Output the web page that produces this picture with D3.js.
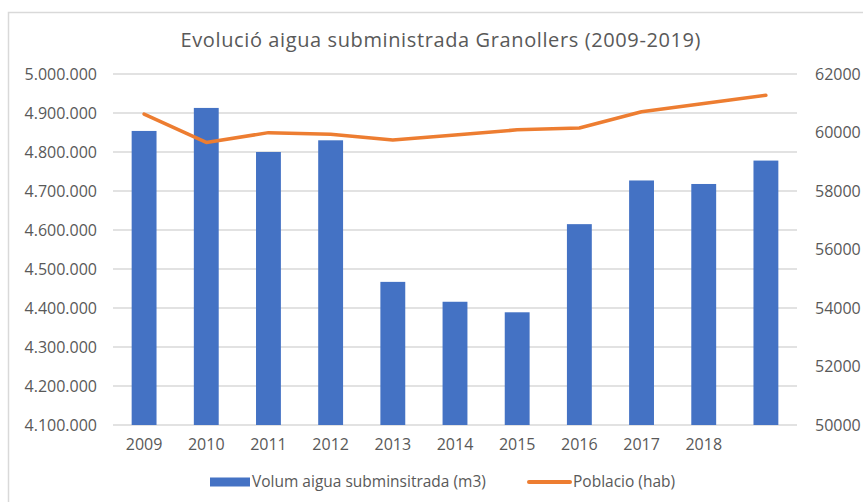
<!DOCTYPE html>
<html>
<head>
<meta charset="utf-8">
<script src="https://cdn.jsdelivr.net/npm/d3@7"></script>
<style>
  body { margin: 0; background: #fff; }
  text { font-family: "Open Sans", sans-serif; fill: #595959; }
</style>
</head>
<body>
<svg id="chart" width="863" height="502"></svg>
<script>
// data
const years = ["2009","2010","2011","2012","2013","2014","2015","2016","2017","2018","2019"];
const yearLabels = ["2009","2010","2011","2012","2013","2014","2015","2016","2017","2018",""];
const volum = [4854000, 4913000, 4800000, 4830000, 4467000, 4416000, 4389000, 4615000, 4727000, 4718000, 4778000];
const poblacio = [60630, 59660, 59995, 59940, 59745, 59915, 60090, 60155, 60710, 60995, 61270];
const leftTicks = [4100000, 4200000, 4300000, 4400000, 4500000, 4600000, 4700000, 4800000, 4900000, 5000000];
const rightTicks = [50000, 52000, 54000, 56000, 58000, 60000, 62000];

const svg = d3.select("#chart");

const plot = {left: 113, right: 797, top: 74, bottom: 425};

// outer chart border (cropped at right/bottom)
svg.append("rect")
    .attr("x", 8.5).attr("y", 12.5)
    .attr("width", 900).attr("height", 600)
    .attr("fill", "none")
    .attr("stroke", "#d9d9d9")
    .attr("stroke-width", 1.5);

let x = d3.scaleBand().domain(years).range([plot.left, plot.right])
    .paddingInner(0.6).paddingOuter(0.3);
let yL = d3.scaleLinear().domain([4100000, 5000000]).range([plot.bottom, plot.top]);
let yR = d3.scaleLinear().domain([50000, 62000]).range([plot.bottom, plot.top]);

const dotFmt = d3.formatLocale({decimal: ",", thousands: ".", grouping: [3], currency: ["", ""]}).format(",d");

// gridlines
svg.append("g").selectAll("line").data(leftTicks).join("line")
    .attr("x1", plot.left).attr("x2", plot.right)
    .attr("y1", d => yL(d)).attr("y2", d => yL(d))
    .attr("stroke", "#d9d9d9").attr("stroke-width", 1.4);

// left axis
let gL = svg.append("g").attr("transform", `translate(${plot.left},0)`)
    .call(d3.axisLeft(yL).tickValues(leftTicks).tickFormat(dotFmt).tickSize(0).tickPadding(16));
gL.select(".domain").remove();
gL.selectAll("text").attr("font-size", 16).style("font-family", "Open Sans").attr("fill", "#595959");

// right axis
let gR = svg.append("g").attr("transform", `translate(${plot.right},0)`)
    .call(d3.axisRight(yR).tickValues(rightTicks).tickFormat(d3.format("d")).tickSize(0).tickPadding(18));
gR.select(".domain").remove();
gR.selectAll("text").attr("font-size", 16).style("font-family", "Open Sans").attr("fill", "#595959");

// x axis
let gX = svg.append("g").attr("transform", `translate(0,${plot.bottom})`)
    .call(d3.axisBottom(x).tickFormat((d, i) => yearLabels[i]).tickSize(0).tickPadding(14));
gX.select(".domain").remove();
gX.selectAll("text").attr("font-size", 16).style("font-family", "Open Sans").attr("fill", "#595959");

// bars
svg.append("g").selectAll("rect").data(volum).join("rect")
    .attr("x", (d, i) => x(years[i]))
    .attr("width", x.bandwidth())
    .attr("y", d => yL(d))
    .attr("height", d => yL(4100000) - yL(d))
    .attr("fill", "#4472c4");

// population line
let line = d3.line()
    .x((d, i) => x(years[i]) + x.bandwidth() / 2)
    .y(d => yR(d));

svg.append("path").datum(poblacio)
    .attr("d", line)
    .attr("fill", "none")
    .attr("stroke", "#ed7d31")
    .attr("stroke-width", 3.5)
    .attr("stroke-linejoin", "round")
    .attr("stroke-linecap", "round");

// title
svg.append("text")
    .attr("x", 440.5).attr("y", 40).attr("dy", "0.35em")
    .attr("text-anchor", "middle")
    .attr("font-size", 20)
    .attr("textLength", 520)
    .attr("lengthAdjust", "spacing")
    .text("Evolució aigua subministrada Granollers (2009-2019)");

// legend
let leg = svg.append("g");
leg.append("rect").attr("x", 210).attr("y", 477.5).attr("width", 40).attr("height", 9).attr("fill", "#4472c4");
leg.append("text").attr("x", 252).attr("y", 482).attr("dy", "0.35em").attr("font-size", 15.5)
    .text("Volum aigua subminsitrada (m3)");
leg.append("line").attr("x1", 529).attr("x2", 570).attr("y1", 482).attr("y2", 482)
    .attr("stroke", "#ed7d31").attr("stroke-width", 4).attr("stroke-linecap", "round");
leg.append("text").attr("x", 573).attr("y", 482).attr("dy", "0.35em").attr("font-size", 15.5)
    .text("Poblacio (hab)");
</script>
</body>
</html>
